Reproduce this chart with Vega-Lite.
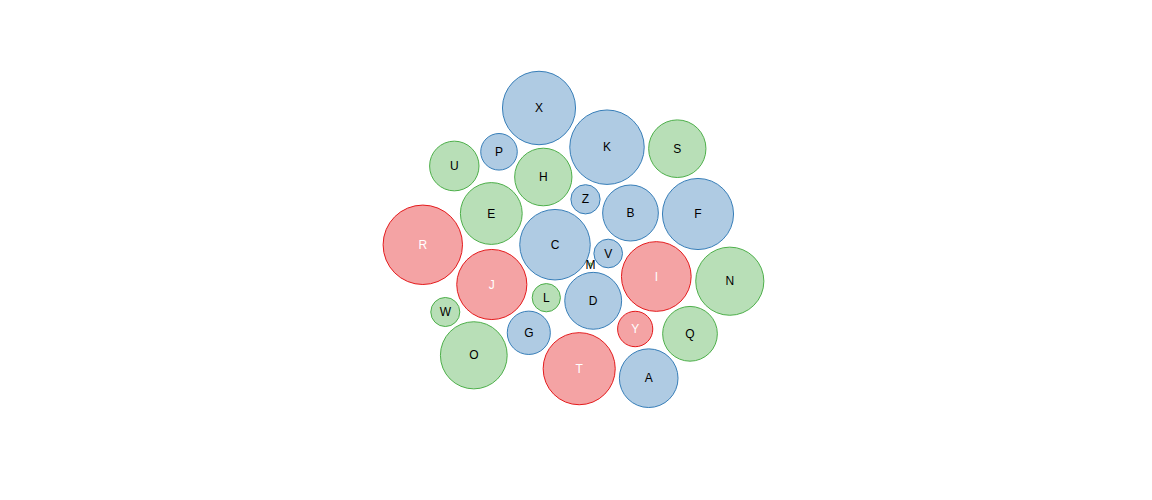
{
  "$schema": "https://vega.github.io/schema/vega-lite/v6.json",
  "width": 1152,
  "height": 500,
  "padding": 0,
  "autosize": {"type": "none"},
  "background": "white",
  "config": {"view": {"stroke": null}},
  "data": {"values": [
    {"id": "X", "x": 539, "y": 108, "r": 37, "g": "blue"},
    {"id": "P", "x": 499, "y": 151.8, "r": 18.5, "g": "blue"},
    {"id": "U", "x": 454.3, "y": 166, "r": 25, "g": "green"},
    {"id": "H", "x": 543.3, "y": 177, "r": 29, "g": "green"},
    {"id": "E", "x": 491.3, "y": 213.5, "r": 31.3, "g": "green"},
    {"id": "K", "x": 607, "y": 147.2, "r": 37.7, "g": "blue"},
    {"id": "S", "x": 677.3, "y": 148.7, "r": 29, "g": "green"},
    {"id": "Z", "x": 585.5, "y": 199.3, "r": 14.8, "g": "blue"},
    {"id": "B", "x": 630.5, "y": 213, "r": 28.2, "g": "blue"},
    {"id": "F", "x": 698, "y": 214, "r": 36, "g": "blue"},
    {"id": "R", "x": 422.8, "y": 244.8, "r": 40.2, "g": "red"},
    {"id": "C", "x": 555, "y": 244.7, "r": 35.7, "g": "blue"},
    {"id": "J", "x": 491.8, "y": 284.5, "r": 35.5, "g": "red"},
    {"id": "L", "x": 546.3, "y": 297.7, "r": 14.3, "g": "green"},
    {"id": "W", "x": 445.3, "y": 312, "r": 14.7, "g": "green"},
    {"id": "G", "x": 528.8, "y": 332.8, "r": 21.8, "g": "blue"},
    {"id": "O", "x": 473.8, "y": 355.3, "r": 33.8, "g": "green"},
    {"id": "T", "x": 579.2, "y": 368.7, "r": 36.5, "g": "red"},
    {"id": "V", "x": 608.2, "y": 253.5, "r": 14.5, "g": "blue"},
    {"id": "I", "x": 656.3, "y": 276.5, "r": 35.3, "g": "red"},
    {"id": "N", "x": 729.8, "y": 281.2, "r": 34.5, "g": "green"},
    {"id": "D", "x": 593.2, "y": 300.8, "r": 28.8, "g": "blue"},
    {"id": "Y", "x": 635.2, "y": 329, "r": 17.8, "g": "red"},
    {"id": "Q", "x": 690, "y": 333.8, "r": 27.7, "g": "green"},
    {"id": "A", "x": 648.7, "y": 378.2, "r": 29.7, "g": "blue"},
    {"id": "M", "x": 590.5, "y": 264.5, "r": 1.5, "g": "green"}
  ]},
  "encoding": {
    "x": {"field": "x", "type": "quantitative", "scale": {"domain": [0, 1152], "nice": false, "zero": false}, "axis": null},
    "y": {"field": "y", "type": "quantitative", "scale": {"domain": [500, 0], "nice": false, "zero": false}, "axis": null}
  },
  "layer": [
    {
      "mark": {"type": "point", "shape": "circle", "filled": false, "fillOpacity": 0.4, "strokeWidth": 1, "strokeOpacity": 1, "opacity": 1},
      "encoding": {
        "size": {"field": "r", "type": "quantitative", "scale": {"type": "pow", "exponent": 2, "domain": [0, 40], "range": [0, 6241]}, "legend": null},
        "fill": {"field": "g", "type": "nominal", "scale": {"domain": ["blue", "green", "red"], "range": ["#377eb8", "#4daf4a", "#e41a1c"]}, "legend": null},
        "stroke": {"field": "g", "type": "nominal", "scale": {"domain": ["blue", "green", "red"], "range": ["#377eb8", "#4daf4a", "#e41a1c"]}, "legend": null}
      }
    },
    {
      "mark": {"type": "text", "align": "center", "baseline": "middle", "font": "Liberation Sans", "fontSize": 12},
      "encoding": {
        "text": {"field": "id", "type": "nominal"},
        "color": {"condition": {"test": "datum.g === 'red'", "value": "white"}, "value": "black"}
      }
    }
  ]
}
